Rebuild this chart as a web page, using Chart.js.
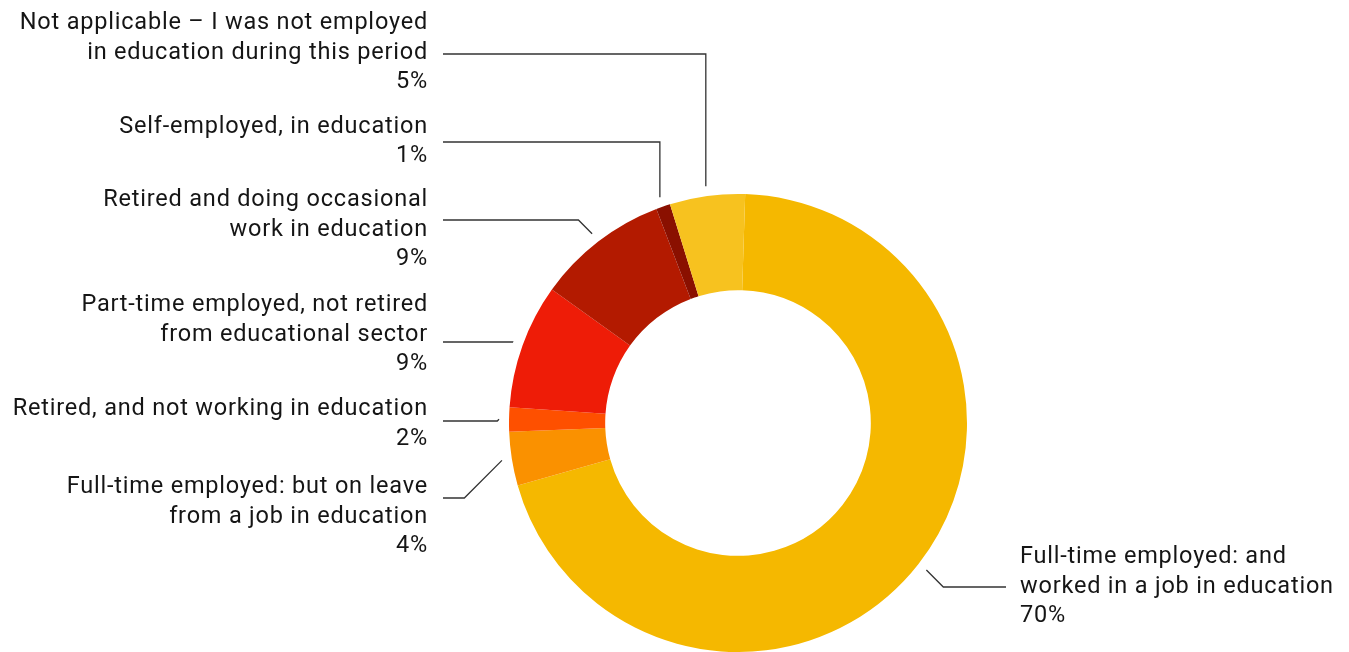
<!DOCTYPE html>
<html>
<head>
<meta charset="utf-8">
<script src="https://cdn.jsdelivr.net/npm/chart.js@4"></script>
<style>
  html, body { margin: 0; padding: 0; background: #fff; }
  #wrap { width: 1349px; height: 652px; position: relative; }
</style>
</head>
<body>
<div id="wrap"><canvas id="donutChart"></canvas></div>
<script>
// Employment status during the period (share of respondents)
const categories = [
  ['Full-time employed: and', 'worked in a job in education'],
  ['Full-time employed: but on leave', 'from a job in education'],
  ['Retired, and not working in education'],
  ['Part-time employed, not retired', 'from educational sector'],
  ['Retired and doing occasional', 'work in education'],
  ['Self-employed, in education'],
  ['Not applicable \u2013 I was not employed', 'in education during this period']
];
const shares = [70.1, 3.8, 1.7, 8.8, 9.3, 1.0, 5.3];
const sliceColors = ['#F5B800', '#FA9100', '#FE5000', '#EE1C07', '#B31A00', '#8A1000', '#F7C21F'];

// label placement: block centre y, connector y, connector style
const labelCenterY = [587, 517, 424, 335, 230, 141.5, 53];
const connectorY = [587, 498, 421, 342, 220, 142, 54];
const connectorMode = ['d', 'd', 'd', 'd', 'd', 'v', 'v'];

const FONT = '23.5px Roboto, "Noto Sans", sans-serif';
const LINE_H = 29.5;

const leaderLabels = {
  id: 'leaderLabels',
  afterDraw(chart) {
    const ctx = chart.ctx;
    const meta = chart.getDatasetMeta(0);
    ctx.save();
    meta.data.forEach((arc, i) => {
      const p = arc.getProps(['x', 'y', 'startAngle', 'endAngle', 'outerRadius'], true);
      const mid = (p.startAngle + p.endAngle) / 2;
      const r = p.outerRadius + 10;
      const sx = p.x + Math.cos(mid) * r;
      const sy = p.y + Math.sin(mid) * r;
      const right = Math.cos(mid) > 0;
      const ly = connectorY[i];
      const endX = right ? 1006 : 443;

      ctx.beginPath();
      ctx.strokeStyle = '#333';
      ctx.lineWidth = 1.3;
      ctx.moveTo(sx, sy);
      if (connectorMode[i] === 'v') {
        ctx.lineTo(sx, ly);
      } else {
        const d = Math.abs(ly - sy);
        ctx.lineTo(sx + (right ? d : -d), ly);
      }
      ctx.lineTo(endX, ly);
      ctx.stroke();

      const pct = Math.round(chart.data.datasets[0].data[i]) + '%';
      const lines = categories[i].concat([pct]);
      ctx.font = FONT;
      ctx.letterSpacing = '0.8px';
      ctx.fillStyle = '#151515';
      ctx.textAlign = right ? 'left' : 'right';
      ctx.textBaseline = 'middle';
      const tx = right ? 1020 : 428;
      const top = labelCenterY[i] - (lines.length - 1) * LINE_H / 2;
      lines.forEach((t, k) => ctx.fillText(t, tx, top + k * LINE_H));
    });
    ctx.restore();
  }
};

new Chart(document.getElementById('donutChart').getContext('2d'), {
  type: 'doughnut',
  data: {
    labels: categories.map(c => c.join(' ')),
    datasets: [{ data: shares, backgroundColor: sliceColors, borderWidth: 0, hoverOffset: 0 }]
  },
  options: {
    responsive: true,
    maintainAspectRatio: false,
    animation: false,
    rotation: 1.8,
    cutout: '58%',
    layout: { padding: { top: 194, bottom: 0, left: 509, right: 382 } },
    plugins: { legend: { display: false }, tooltip: { enabled: false } }
  },
  plugins: [leaderLabels]
});
</script>
</body>
</html>
